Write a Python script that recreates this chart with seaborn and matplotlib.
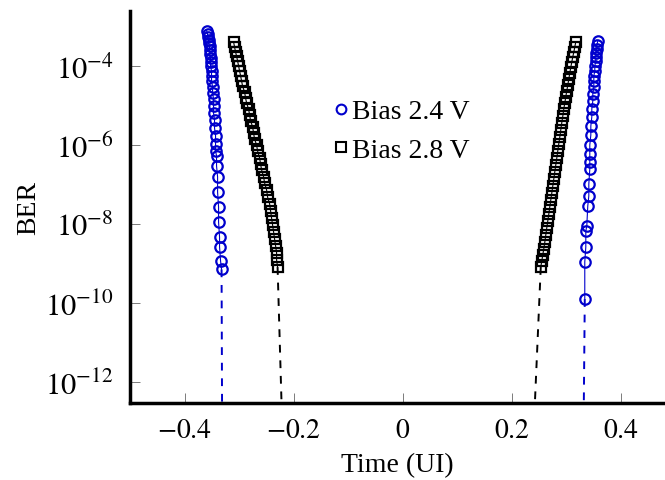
import numpy as np
import seaborn as sns
import matplotlib.pyplot as plt
from matplotlib.lines import Line2D
from matplotlib.ticker import FixedLocator, NullLocator, FuncFormatter

# time in UI and log10(BER)
t24_left = [-0.3596, -0.3578, -0.3578, -0.3560, -0.3560, -0.3541, -0.3541, -0.3541,
            -0.3523, -0.3523, -0.3523, -0.3505, -0.3505, -0.3505, -0.3486, -0.3486,
            -0.3468, -0.3468, -0.3468, -0.3450, -0.3450, -0.3431, -0.3431, -0.3431,
            -0.3413, -0.3413, -0.3394, -0.3394, -0.3376, -0.3376, -0.3358, -0.3358,
            -0.3339, -0.3321]
e24_left = [-3.11, -3.19, -3.27, -3.34, -3.42, -3.49, -3.59, -3.70,
            -3.80, -3.90, -4.00, -4.13, -4.25, -4.38, -4.53, -4.68,
            -4.84, -5.01, -5.19, -5.37, -5.57, -5.77, -5.97, -6.15,
            -6.28, -6.53, -6.81, -7.19, -7.57, -7.95, -8.33, -8.58,
            -8.94, -9.15]

t24_right = [0.3578, 0.3560, 0.3560, 0.3541, 0.3541, 0.3541, 0.3523, 0.3523,
             0.3505, 0.3505, 0.3505, 0.3486, 0.3486, 0.3468, 0.3468, 0.3450,
             0.3450, 0.3431, 0.3431, 0.3431, 0.3431, 0.3413, 0.3413, 0.3394,
             0.3376, 0.3358, 0.3358, 0.3339, 0.3339]
e24_right = [-3.37, -3.47, -3.57, -3.67, -3.77, -3.87, -4.00, -4.13,
             -4.25, -4.38, -4.53, -4.71, -4.89, -5.09, -5.29, -5.52,
             -5.75, -6.00, -6.23, -6.43, -6.61, -6.99, -7.29, -7.54,
             -8.05, -8.18, -8.58, -8.96, -9.90]

t28_left = [-0.3101, -0.3083, -0.3064, -0.3046, -0.3028, -0.3009, -0.2991, -0.2972,
            -0.2954, -0.2936, -0.2899, -0.2881, -0.2862, -0.2826, -0.2807, -0.2789,
            -0.2752, -0.2734, -0.2716, -0.2679, -0.2661, -0.2624, -0.2606, -0.2587,
            -0.2550, -0.2532, -0.2495, -0.2477, -0.2440, -0.2422, -0.2404, -0.2385,
            -0.2367, -0.2349, -0.2330, -0.2312, -0.2312, -0.2294]
e28_left = [-3.39, -3.52, -3.65, -3.75, -3.87, -4.00, -4.13, -4.25,
            -4.38, -4.51, -4.66, -4.81, -4.94, -5.09, -5.24, -5.39,
            -5.54, -5.70, -5.85, -6.00, -6.15, -6.33, -6.48, -6.63,
            -6.81, -6.96, -7.14, -7.32, -7.49, -7.67, -7.85, -8.03,
            -8.20, -8.38, -8.56, -8.73, -8.91, -9.09]

t28_right = [0.3174, 0.3156, 0.3138, 0.3119, 0.3101, 0.3083, 0.3064, 0.3046,
             0.3028, 0.3009, 0.2991, 0.2972, 0.2954, 0.2936, 0.2917, 0.2899,
             0.2881, 0.2862, 0.2844, 0.2826, 0.2807, 0.2789, 0.2771, 0.2752,
             0.2734, 0.2716, 0.2697, 0.2679, 0.2661, 0.2642, 0.2624, 0.2606,
             0.2587, 0.2569, 0.2550, 0.2532]
e28_right = [-3.39, -3.52, -3.65, -3.77, -3.90, -4.03, -4.18, -4.33,
             -4.48, -4.63, -4.78, -4.94, -5.09, -5.27, -5.44, -5.62,
             -5.80, -5.97, -6.15, -6.33, -6.51, -6.68, -6.86, -7.04,
             -7.22, -7.39, -7.57, -7.75, -7.92, -8.10, -8.28, -8.46,
             -8.63, -8.78, -8.94, -9.09]

# dashed extrapolations down to the bottom of the plot
x24_left = [-0.3321, -0.3312]
x24_right = [0.3339, 0.3321]
x28_left = [-0.2294, -0.2220]
x28_right = [0.2532, 0.2422]
ext_from = {"24_left": -9.15, "24_right": -9.90, "28_left": -9.09, "28_right": -9.09}
ext_to = -12.6

labels = ["Bias 2.4 V", "Bias 2.8 V"]
xticks = [-0.4, -0.2, 0, 0.2, 0.4]
yticks = [-12, -10, -8, -6, -4]

sns.set_style("ticks")
plt.rcParams["font.family"] = ["Liberation Serif", "DejaVu Serif"]
plt.rcParams["mathtext.fontset"] = "stix"
plt.rcParams["font.size"] = 20
plt.rcParams["text.color"] = "black"
plt.rcParams["axes.labelcolor"] = "black"

blue = "#0000cc"
black = "#000000"

fig = plt.figure(figsize=(6.65, 4.81), dpi=100)
ax = fig.add_axes([130 / 665, 1 - 404 / 481, 1 - 130 / 665, (404 - 12) / 481])

mk = dict(markersize=7.5, markerfacecolor="none", markeredgewidth=1.6, linewidth=0.8)
curves = [
    (t24_left, e24_left, blue, "o"),
    (t24_right, e24_right, blue, "o"),
    (t28_left, e28_left, black, "s"),
    (t28_right, e28_right, black, "s"),
]
for t, e, c, m in curves:
    sns.lineplot(x=t, y=10 ** np.array(e), sort=False, estimator=None, color=c,
                 marker=m, markeredgecolor=c, ax=ax, **mk)

exts = [
    (x24_left, ext_from["24_left"], blue),
    (x24_right, ext_from["24_right"], blue),
    (x28_left, ext_from["28_left"], black),
    (x28_right, ext_from["28_right"], black),
]
for xs, e0, c in exts:
    sns.lineplot(x=xs, y=10 ** np.array([e0, ext_to]), sort=False, estimator=None,
                 color=c, linewidth=1.4, linestyle=(0, (4, 4)), ax=ax)

ax.set_yscale("log")
ax.set_xlim(-0.5, 0.481)
ax.set_ylim(10 ** -12.53, 10 ** -2.61)

ax.xaxis.set_major_locator(FixedLocator(xticks))
ax.xaxis.set_major_formatter(FuncFormatter(lambda v, p: "$0$" if abs(v) < 1e-9 else f"${v:.1f}$"))
ax.yaxis.set_major_locator(FixedLocator([10.0 ** k for k in yticks]))
ax.yaxis.set_minor_locator(NullLocator())
ax.yaxis.set_major_formatter(FuncFormatter(lambda v, p: "$10^{%d}$" % round(np.log10(v))))

for s in ["top", "right"]:
    ax.spines[s].set_visible(False)
for s in ["left", "bottom"]:
    ax.spines[s].set_linewidth(2.5)
    ax.spines[s].set_color("black")
ax.tick_params(direction="in", length=7, width=0.6, color="#666666", labelcolor="black")
ax.tick_params(axis="x", pad=11, labelsize=20)
ax.tick_params(axis="y", pad=12, labelsize=22)

ax.set_xlabel("Time (UI)", fontsize=20, labelpad=6)
ax.set_ylabel("BER", fontsize=20, labelpad=3)

handles = [
    Line2D([], [], linestyle="none", marker="o", markersize=7, markerfacecolor="none",
           markeredgecolor=blue, markeredgewidth=1.5),
    Line2D([], [], linestyle="none", marker="s", markersize=7, markerfacecolor="none",
           markeredgecolor=black, markeredgewidth=1.5),
]
fig.legend(handles, labels, loc="upper left", bbox_to_anchor=(333 / 665, 1 - 100 / 481),
           frameon=False, fontsize=20, handlelength=0.6, handletextpad=0.1,
           labelspacing=0.47, borderpad=0, borderaxespad=0)

fig.savefig("out.png", dpi=100)
